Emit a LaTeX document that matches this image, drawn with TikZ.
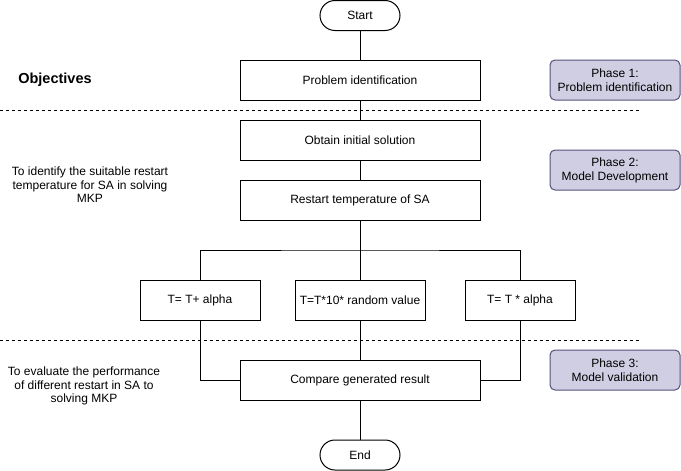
\documentclass[tikz,border=0pt]{standalone}
\usepackage{fontspec}
\setmainfont{Liberation Sans}
\usepackage{tikz}
\usetikzlibrary{positioning}
\definecolor{phasefill}{HTML}{D0CEE2}
\definecolor{phaseline}{HTML}{56517E}

\tikzset{
  stepbox/.style={draw, line width=1pt, minimum width=240pt, minimum height=40pt, inner sep=2pt, font=\fontsize{12}{14}\selectfont},
  termbox/.style={draw, line width=1pt, rounded corners=15pt, minimum width=80pt, minimum height=30pt, font=\fontsize{12}{14}\selectfont},
  tbox/.style={draw, line width=1pt, minimum height=40pt, inner sep=2pt, font=\fontsize{12}{14}\selectfont},
  phasebox/.style={draw=phaseline, fill=phasefill, line width=1pt, rounded corners=5pt, minimum width=130pt, minimum height=40pt, align=center, inner sep=1pt, font=\fontsize{12}{14}\selectfont},
  objtext/.style={align=center, font=\fontsize{12}{13.5}\selectfont, inner sep=0pt},
  link/.style={line width=1pt},
  phasesep/.style={line width=1pt, dash pattern=on 3pt off 3pt}
}

\begin{document}
\begin{tikzpicture}[x=1pt,y=-1pt]
\useasboundingbox (0,0) rectangle (681,471);
% dashed separators
\coordinate (sepA) at (0,110);
\coordinate (sepB) at (640,110);
\coordinate (sepC) at (0,340);
\coordinate (sepD) at (640,340);
\draw[phasesep] (sepA) -- (sepB);
\draw[phasesep] (sepC) -- (sepD);

% flow
\node[termbox] (start) at (360,15.5) {Start};
\node[stepbox] (ident) at (360,80) {Problem identification};
\node[stepbox] (init) at (360,140) {Obtain initial solution};
\node[stepbox] (restart) at (360,200) {Restart temperature of SA};
\node[tbox, minimum width=120pt] (plus) at (200,300) {T= T+ alpha};
\node[tbox, minimum width=130pt] (rand) at (360,300) {T=T*10* random value};
\node[tbox, minimum width=110pt] (mult) at (520,300) {T= T * alpha};
\node[stepbox] (cmp) at (360,380) {Compare generated result};
\node[termbox] (end) at (360,455) {End};
\coordinate (fork) at (360,250);

\draw[link] (start) -- (ident);
\draw[link] (ident) -- (init);
\draw[link] (init) -- (restart);
\draw[link] (restart) -- (rand);
\draw[link] (plus.north) |- (fork) -| (mult.north);
\draw[link] (plus.south) |- (cmp.west);
\draw[link] (mult.south) |- (cmp.east);
\draw[link] (rand) -- (cmp);
\draw[link] (cmp) -- (end);

% objectives
\node[font=\bfseries\fontsize{14.5}{16}\selectfont] (obj) at (55,80) {Objectives};
\node[objtext] (objA) at (90,185) {To identify the suitable restart\\temperature for SA in solving\\MKP};
\node[objtext] (objB) at (84,386) {To evaluate the performance\\of different restart in SA to\\solving MKP};

% phases
\node[phasebox] (ph1) at (615,80) {Phase 1:\\Problem identification};
\node[phasebox] (ph2) at (615,170) {Phase 2:\\Model Development};
\node[phasebox] (ph3) at (615,370) {Phase 3:\\Model validation};
\end{tikzpicture}
\end{document}
